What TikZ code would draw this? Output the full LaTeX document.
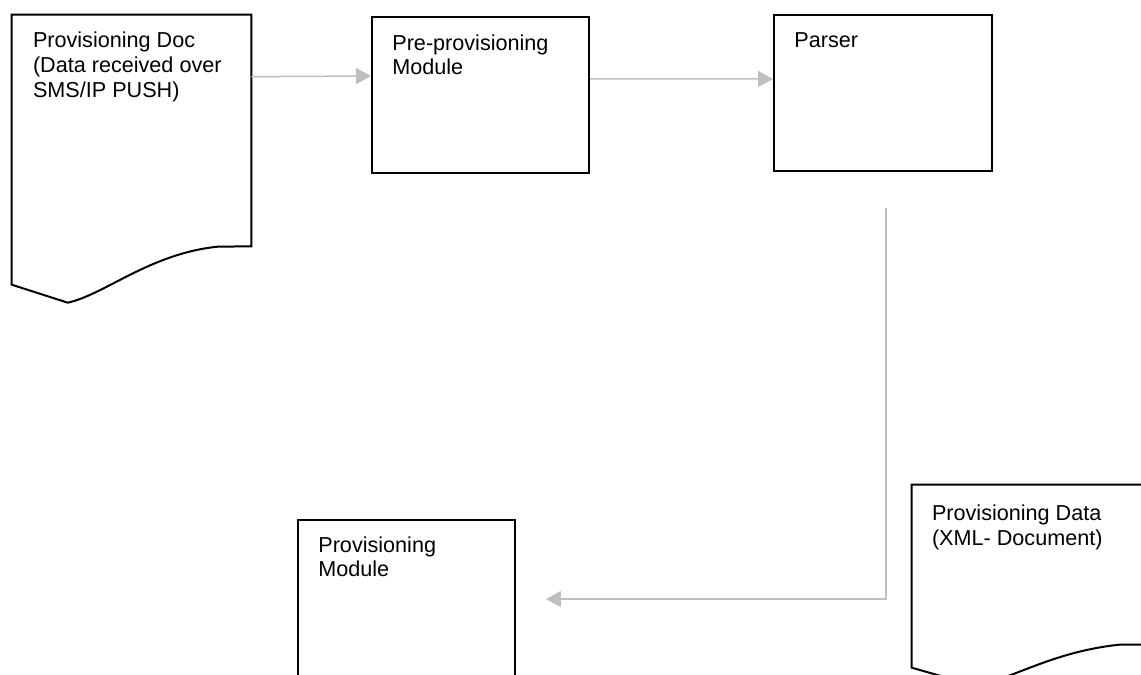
\documentclass[tikz,border=0pt]{standalone}
\usepackage{fontspec}
\setmainfont{Liberation Sans}
\usetikzlibrary{positioning, arrows.meta}
\definecolor{flowgray}{RGB}{191,191,191}
\tikzset{
    block/.style={draw, line width=0.04cm, inner sep=0pt},
    docshape/.style={inner sep=0pt},
    lbl/.style={inner sep=0pt, align=left, font=\fontsize{12.3}{14.2}\selectfont},
    flow/.style={draw=flowgray, line width=0.03cm, -{Triangle[length=0.3cm, width=0.32cm]}},
}

\begin{document}
\begin{tikzpicture}[x=0.02cm, y=-0.02cm]
    \useasboundingbox (0, 0) rectangle (1141, 675);
    \clip (0, 0) rectangle (1141, 675);

    % boxes
    \draw
        node [block, minimum width=4.34cm, minimum height=3.12cm] (preprov) at (480.5, 95) {}
        node [block, minimum width=4.36cm, minimum height=3.12cm] (parser) at (883, 93) {}
        node [block, minimum width=4.34cm, minimum height=4cm] (provmod) at (406.5, 620) {}
    ;

    % documents
    \draw
        node [docshape, minimum width=4.78cm, minimum height=4.62cm] (provdoc) at (131.5, 130.5) {}
        node [docshape, minimum width=4.96cm, minimum height=3.18cm] (provdata) at (1036, 564.5) {}
    ;
    \draw [block] (provdoc.south east) -- (provdoc.north east) -- (provdoc.north west)
        -- ++(0, 270) -- ++(56, 18) .. controls +(37, -8) and +(-68, 7) .. ++(150, -56) -- cycle;
    \draw [block] (provdata.south east) -- (provdata.north east) -- (provdata.north west)
        -- ++(0, 183) -- ++(63, 18) .. controls +(37, -6) and +(-68, 7) .. ++(145, -41) -- cycle;

    % texts
    \node [lbl, below right=0.34cm and 0.42cm of provdoc.north west] (provdoctxt)
        {Provisioning Doc\\(Data received over\\SMS/IP PUSH)};
    \node [lbl, below right=0.36cm and 0.42cm of preprov.north west] (preprovtxt)
        {Pre-provisioning\\Module};
    \node [lbl, below right=0.36cm and 0.42cm of parser.north west] (parsertxt) {Parser};
    \node [lbl, below right=0.34cm and 0.42cm of provmod.north west] (provmodtxt)
        {Provisioning\\Module};
    \node [lbl, below right=0.40cm and 0.40cm of provdata.north west] (provdatatxt)
        {Provisioning Data\\(XML- Document)};

    % flow
    \draw [flow] ([yshift=-1.24cm]provdoc.north east) -- ([yshift=-1.2cm]preprov.north west);
    \draw [flow] ([yshift=-1.26cm]preprov.north east) -- ([yshift=-1.3cm]parser.north west);
    \draw [flow] ([xshift=0.06cm, yshift=-0.72cm]parser.south)
        |- ([xshift=0.6cm, yshift=-1.6cm]provmod.north east);
\end{tikzpicture}
\end{document}
